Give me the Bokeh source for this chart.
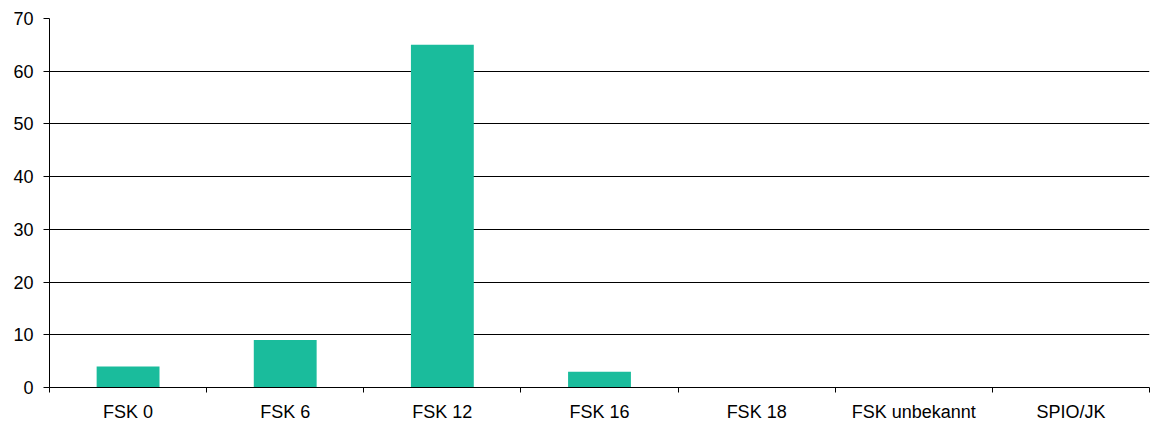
import numpy as np
from bokeh.plotting import figure
from bokeh.models import ColumnDataSource, FixedTicker, Range1d
from bokeh.embed import file_html
from bokeh.resources import INLINE

categories = ["FSK 0", "FSK 6", "FSK 12", "FSK 16", "FSK 18", "FSK unbekannt", "SPIO/JK"]
values = [4, 9, 65, 3, 0, 0, 0]
y_ticks = [0, 10, 20, 30, 40, 50, 60, 70]

n = len(categories)
xs = np.arange(n) + 0.5
src = ColumnDataSource(dict(x=xs, top=values))

p = figure(width=1158, height=427, output_backend="svg", toolbar_location=None,
           x_range=Range1d(0, n), y_range=Range1d(0, 70),
           min_border_left=49, min_border_right=9, min_border_top=18, min_border_bottom=40)
p.outline_line_color = None
p.vbar(x="x", top="top", width=0.4, source=src, color="#1ABC9C", line_color=None)

font = "Liberation Sans"
xa = p.xaxis[0]
xa.ticker = FixedTicker(ticks=list(xs), minor_ticks=list(range(n + 1)))
xa.major_label_overrides = {float(x): c for x, c in zip(xs, categories)}
xa.major_tick_out = 0
xa.major_tick_in = 0
xa.minor_tick_out = 5
xa.minor_tick_in = 0
xa.minor_tick_line_color = "black"
xa.axis_line_color = "black"
xa.major_label_text_font = font
xa.major_label_text_font_size = "18px"
xa.major_label_text_color = "black"
xa.major_label_standoff = 9

ya = p.yaxis[0]
ya.ticker = FixedTicker(ticks=y_ticks, minor_ticks=[])
ya.major_tick_out = 6
ya.major_tick_in = 0
ya.major_tick_line_color = "black"
ya.axis_line_color = "black"
ya.major_label_text_font = font
ya.major_label_text_font_size = "18px"
ya.major_label_text_color = "black"
ya.major_label_standoff = 10

p.xgrid.grid_line_color = None
p.ygrid.grid_line_color = "black"
p.ygrid.grid_line_width = 1

open("out.html", "w").write(file_html(p, INLINE))
